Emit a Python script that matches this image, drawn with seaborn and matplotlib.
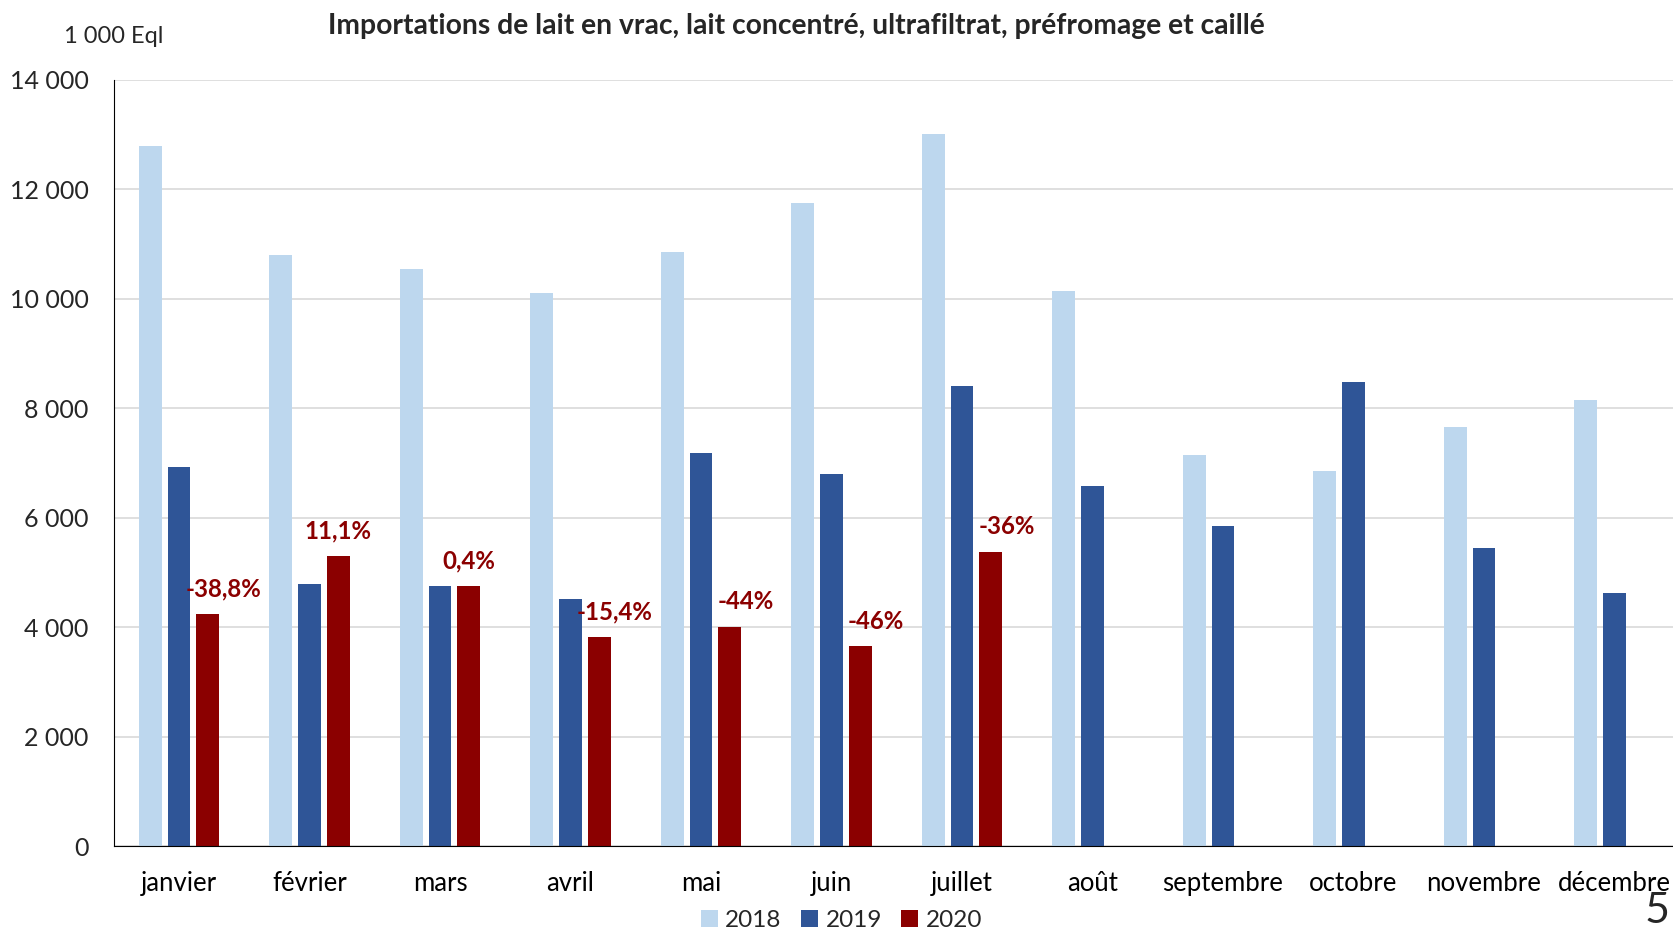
import numpy as np
import pandas as pd
import matplotlib
matplotlib.use("Agg")
import matplotlib.pyplot as plt
import seaborn as sns
from matplotlib.ticker import FuncFormatter, FixedLocator

# --- Données (1 000 Eql) ---
mois = ["janvier", "février", "mars", "avril", "mai", "juin",
        "juillet", "août", "septembre", "octobre", "novembre", "décembre"]
annees = ["2018", "2019", "2020"]
v2018 = [12790, 10800, 10550, 10110, 10850, 11740, 13010, 10140, 7150, 6860, 7650, 8150]
v2019 = [6920, 4780, 4755, 4505, 7180, 6790, 8400, 6570, 5850, 8480, 5440, 4620]
v2020 = [4235, 5305, 4755, 3820, 4010, 3650, 5380, np.nan, np.nan, np.nan, np.nan, np.nan]
evol_2020 = ["-38,8%", "11,1%", "0,4%", "-15,4%", "-44%", "-46%", "-36%"]

couleurs = ["#BDD7EE", "#2F5597", "#8B0000"]

df = pd.DataFrame({
    "mois": mois * 3,
    "annee": [a for a in annees for _ in mois],
    "valeur": v2018 + v2019 + v2020,
})

sns.set_style("white")
plt.rcParams["font.family"] = ["Lato", "DejaVu Sans"]

fig = plt.figure(figsize=(16.73, 9.3), dpi=100)
ax = fig.add_axes([0.068, 0.0903, 0.936, 0.824])

sns.barplot(data=df, x="mois", y="valeur", hue="annee", hue_order=annees,
            palette=couleurs, saturation=1, width=0.66, gap=0.21, linewidth=0,
            errorbar=None, ax=ax)

# étiquettes d'évolution 2020 / 2019
for i, txt in enumerate(evol_2020):
    dx = 0.12 if txt.startswith("-") else 0.0
    ax.text(i + 0.22 + dx, v2020[i] + 460, txt, ha="center", va="center",
            color="#8B0000", fontsize=17.3, fontweight="bold")

ax.set_ylim(0, 14000)
ax.set_xlim(-0.5, 11.5)
ax.yaxis.set_major_locator(FixedLocator(range(0, 14001, 2000)))
ax.yaxis.set_major_formatter(FuncFormatter(lambda v, p: f"{v:,.0f}".replace(",", " ")))
ax.grid(axis="y", color="#D9D9D9", linewidth=1.2)
ax.set_axisbelow(True)

ax.set_xlabel("")
ax.set_ylabel("")
ax.xaxis.set_minor_locator(FixedLocator(np.arange(-0.5, 12, 1)))
ax.tick_params(axis="x", which="major", length=0, pad=18, labelsize=18.5, colors="black")
ax.tick_params(axis="x", which="minor", length=6, width=1, direction="out", color="black")
ax.tick_params(axis="y", length=6, width=1, direction="out", pad=12, labelsize=18, color="black")

for s in ["top", "right"]:
    ax.spines[s].set_visible(False)
ax.spines["left"].set_color("black")
ax.spines["bottom"].set_color("black")

handles, labels = ax.get_legend_handles_labels()
ax.get_legend().remove()
fig.legend(handles, labels, loc="center", bbox_to_anchor=(0.503, 0.01), ncol=3,
           frameon=False, fontsize=17.5, handlelength=0.7, handleheight=0.7,
           handletextpad=0.3, columnspacing=0.8, borderpad=0.1)

fig.text(0.476, 0.972, "Importations de lait en vrac, lait concentré, ultrafiltrat, préfromage et caillé",
         ha="center", va="center", fontsize=20.3, fontweight="bold")
fig.text(0.038, 0.961, "1 000 Eql", ha="left", va="center", fontsize=17)
fig.text(0.998, 0.02, "5", ha="right", va="center", fontsize=31)

fig.savefig("out.png", dpi=100)
